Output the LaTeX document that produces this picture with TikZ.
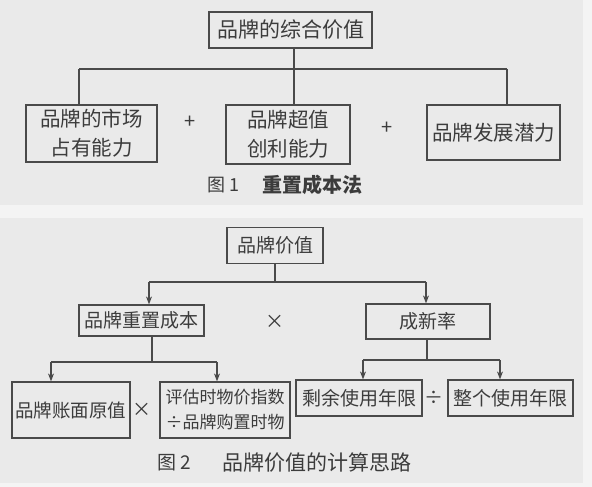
\documentclass[tikz,border=0pt]{standalone}
\usepackage{fontspec}
\setmainfont{Noto Sans CJK SC}
\usetikzlibrary{arrows.meta}
\definecolor{paper}{HTML}{EAEAEA}
\definecolor{ink}{HTML}{3C3C3C}
\definecolor{linec}{HTML}{4A4A4A}
\tikzset{
  box/.style={draw=linec, line width=1.2pt, text=ink, inner sep=0pt, align=center},
  conn/.style={draw=linec, line width=1.2pt},
  arr/.style={conn, -{Stealth[length=8pt,width=6pt]}},
  op/.style={text=ink, inner sep=0pt},
  captxt/.style={text=ink, inner sep=0pt}
}
\begin{document}
\begin{tikzpicture}[x=1pt,y=-1pt]
\useasboundingbox (0,0) rectangle (592,487);
\fill[paper] (0,0) rectangle (592,487);
\fill[white!45!paper] (0,205) rectangle (592,218);
\fill[white!45!paper] (0,483) rectangle (592,487);
\fill[white!45!paper] (583,0) rectangle (592,487);

% ---------- Figure 1 ----------
\node[box, minimum width=163pt, minimum height=36pt, font=\fontsize{21}{25}\selectfont] (top) at (290.5,30) {品牌的综合价值};
\node[box, minimum width=131pt, minimum height=57pt, font=\fontsize{20.5}{29}\selectfont] (l1) at (91.5,133.5) {品牌的市场\\占有能力};
\node[box, minimum width=124pt, minimum height=59pt, font=\fontsize{20.5}{29}\selectfont] (m1) at (288,134.5) {品牌超值\\创利能力};
\node[box, minimum width=133pt, minimum height=55pt, font=\fontsize{20.5}{25}\selectfont] (r1) at (493.5,132.5) {品牌发展潜力};
\node[op, font=\fontsize{20}{24}\selectfont] (p1) at (190,122) {+};
\node[op, font=\fontsize{20}{24}\selectfont] (p2) at (387,128) {+};

\coordinate (tb) at (294,48);
\coordinate (hm) at (294,69);
\coordinate (hl) at (79,69);
\coordinate (hr) at (507,69);
\draw[conn] (tb) -- (hm);
\draw[conn] (hl) -- (hr);
\draw[conn] (hl) -- (hl |- l1.north);
\draw[conn] (hm) -- (hm |- m1.north);
\draw[conn] (hr) -- (hr |- r1.north);

\node[captxt, font=\fontsize{18}{22}\selectfont, anchor=west] (c1a) at (207,185) {图 1};
\node[captxt, font=\fontsize{20}{24}\selectfont\bfseries, anchor=west] (c1b) at (262,185) {重置成本法};

% ---------- Figure 2 ----------
\node[box, minimum width=96pt, minimum height=36pt, font=\fontsize{19}{23}\selectfont] (v) at (275,245.5) {品牌价值};
\node[box, minimum width=125pt, minimum height=31pt, font=\fontsize{19}{23}\selectfont] (a) at (141.5,320.5) {品牌重置成本};
\node[box, minimum width=124pt, minimum height=35pt, font=\fontsize{19}{23}\selectfont] (b) at (428,321.5) {成新率};
\node[op, font=\fontsize{19}{23}\selectfont] (t1) at (275,322) {×};

\coordinate (v1) at (275,282);
\coordinate (va) at (149,282);
\coordinate (vb) at (426,282);
\draw[conn] (v.south) -- (v1);
\draw[conn] (va) -- (vb);
\draw[arr] (va) -- (va |- a.north);
\draw[arr] (vb) -- (vb |- b.north);

\node[box, minimum width=118pt, minimum height=56pt, font=\fontsize{18.5}{22}\selectfont] (c) at (71,410) {品牌账面原值};
\node[box, minimum width=130pt, minimum height=56pt, font=\fontsize{17}{25}\selectfont] (d) at (225,410) {评估时物价指数\\÷品牌购置时物};
\node[op, font=\fontsize{19}{23}\selectfont] (t2) at (142,410) {×};

\coordinate (a1) at (152,362);
\coordinate (ac) at (51,362);
\coordinate (ad) at (217,362);
\draw[conn] (a1 |- a.south) -- (a1);
\draw[conn] (ac) -- (ad);
\draw[arr] (ac) -- (ac |- c.north);
\draw[arr] (ad) -- (ad |- d.north);

\node[box, minimum width=126pt, minimum height=36pt, font=\fontsize{19}{23}\selectfont] (e) at (359,398) {剩余使用年限};
\node[box, minimum width=125pt, minimum height=36pt, font=\fontsize{19}{23}\selectfont] (f) at (510.5,398) {整个使用年限};
\node[op, font=\fontsize{19}{23}\selectfont] (dv) at (434,398) {÷};

\coordinate (b1) at (427,360);
\coordinate (be) at (363,360);
\coordinate (bf) at (500,360);
\draw[conn] (b1 |- b.south) -- (b1);
\draw[conn] (be) -- (bf);
\draw[arr] (be) -- (be |- e.north);
\draw[arr] (bf) -- (bf |- f.north);

\node[captxt, font=\fontsize{19}{23}\selectfont, anchor=west] (c2a) at (157,463) {图 2};
\node[captxt, font=\fontsize{21}{25}\selectfont, anchor=west] (c2b) at (222,463) {品牌价值的计算思路};
\end{tikzpicture}
\end{document}
